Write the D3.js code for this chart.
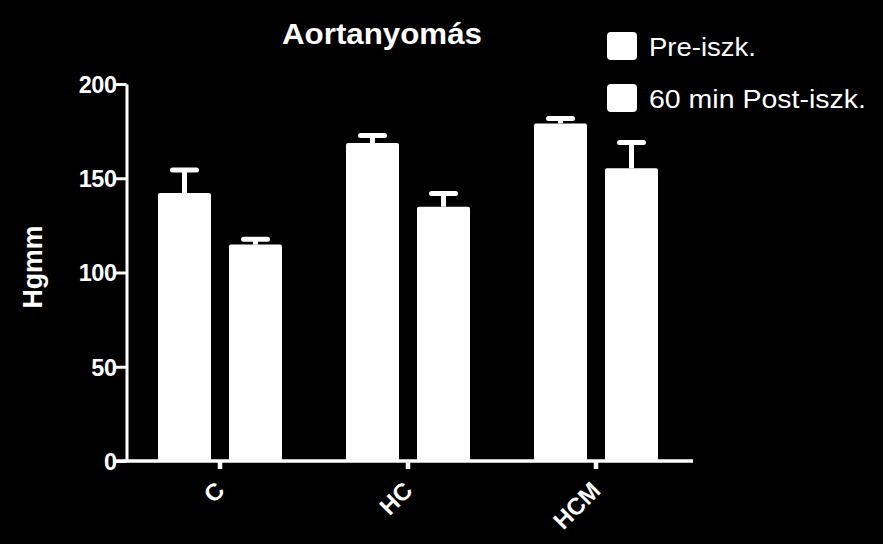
<!DOCTYPE html>
<html>
<head>
<meta charset="utf-8">
<script src="https://cdn.jsdelivr.net/npm/d3@7"></script>
<style>
  html, body { margin: 0; padding: 0; background: #000; }
  svg { display: block; }
  text { font-family: "Liberation Sans", Arial, sans-serif; fill: #fff; }
</style>
</head>
<body>
<svg id="chart" width="883" height="544"></svg>
<script>
const title = "Aortanyomás";
const yTitle = "Hgmm";
const categories = ["C", "HC", "HCM"];
const seriesNames = ["Pre-iszk.", "60 min Post-iszk."];
const preValues = [142.2, 168.7, 179.1];
const preErrors = [12.2, 4.0, 2.6];
const postValues = [114.8, 134.9, 155.3];
const postErrors = [2.9, 7.0, 13.7];
const yTicks = [0, 50, 100, 150, 200];

const svg = d3.select("#chart");
svg.append("rect").attr("width", 883).attr("height", 544).attr("fill", "#000");

const y = d3.scaleLinear().domain([0, 200]).range([461, 84]);
const x = d3.scaleBand().domain(categories).range([126, 690]);
const xs = d3.scaleBand().domain(seriesNames).range([-62, 62]).paddingInner(18 / 71);

const rows = [];
categories.forEach((c, i) => {
  rows.push({cat: c, s: seriesNames[0], v: preValues[i], e: preErrors[i]});
  rows.push({cat: c, s: seriesNames[1], v: postValues[i], e: postErrors[i]});
});
const cx = d => x(d.cat) + x.bandwidth() / 2 + xs(d.s) + xs.bandwidth() / 2;

// Bars
svg.append("g").selectAll("rect").data(rows).join("rect")
  .attr("x", d => x(d.cat) + x.bandwidth() / 2 + xs(d.s))
  .attr("y", d => y(d.v))
  .attr("width", xs.bandwidth())
  .attr("height", d => y(0) - y(d.v))
  .attr("rx", 2)
  .attr("fill", "#fff");

// Error bars
const eg = svg.append("g").attr("stroke", "#fff").attr("stroke-width", 5);
eg.selectAll("line.stem").data(rows).join("line").attr("class", "stem")
  .attr("x1", cx).attr("x2", cx)
  .attr("y1", d => y(d.v)).attr("y2", d => y(d.v + d.e));
eg.selectAll("line.cap").data(rows).join("line").attr("class", "cap")
  .attr("stroke-linecap", "round")
  .attr("x1", d => cx(d) - 12).attr("x2", d => cx(d) + 12)
  .attr("y1", d => y(d.v + d.e)).attr("y2", d => y(d.v + d.e));

// Y axis
const yAxis = svg.append("g").attr("transform", "translate(126.5,0)")
  .call(d3.axisLeft(y).tickValues(yTicks).tickSize(11).tickSizeOuter(0).tickPadding(0));
yAxis.select(".domain").attr("stroke", "#fff").attr("stroke-width", 3);
yAxis.selectAll(".tick line").attr("stroke", "#fff").attr("stroke-width", 3);
yAxis.selectAll(".tick text")
  .attr("fill", "#fff")
  .attr("font-size", 23.5).attr("font-weight", "bold")
  .attr("x", -10).attr("dy", "0.36em")
  .attr("letter-spacing", -0.5);

// X axis
const xAxis = svg.append("g").attr("transform", "translate(0,461)")
  .call(d3.axisBottom(x).tickSize(8).tickSizeOuter(0).tickPadding(0));
xAxis.select(".domain").remove();
xAxis.append("line").attr("x1", 115).attr("x2", 693).attr("y1", 0).attr("y2", 0)
  .attr("stroke", "#fff").attr("stroke-width", 3.5);
xAxis.selectAll(".tick line").attr("stroke", "#fff").attr("stroke-width", 4.5);
xAxis.selectAll(".tick text")
  .attr("fill", "#fff")
  .attr("font-size", 24).attr("font-weight", "bold")
  .attr("text-anchor", "end")
  .attr("y", 0).attr("dy", 0)
  .attr("transform", "translate(6,31) rotate(-45)");

// Title
svg.append("text").attr("x", 382).attr("y", 44)
  .attr("text-anchor", "middle").attr("font-size", 30).attr("font-weight", "bold")
  .attr("textLength", 200).attr("lengthAdjust", "spacingAndGlyphs")
  .text(title);

// Y title
svg.append("text").attr("transform", "translate(42,267) rotate(-90)")
  .attr("text-anchor", "middle").attr("font-size", 28).attr("font-weight", "bold")
  .attr("textLength", 83).attr("lengthAdjust", "spacingAndGlyphs")
  .text(yTitle);

// Legend
const legendY = [32, 84];
const legendLen = [107, 217];
const lg = svg.append("g").selectAll("g").data(seriesNames).join("g")
  .attr("transform", (d, i) => `translate(607,${legendY[i]})`);
lg.append("rect").attr("width", 30).attr("height", 28).attr("rx", 4).attr("fill", "#fff");
lg.append("text").attr("x", 42).attr("y", 23.5)
  .attr("font-size", 25)
  .attr("textLength", (d, i) => legendLen[i]).attr("lengthAdjust", "spacingAndGlyphs")
  .text(d => d);
</script>
</body>
</html>
